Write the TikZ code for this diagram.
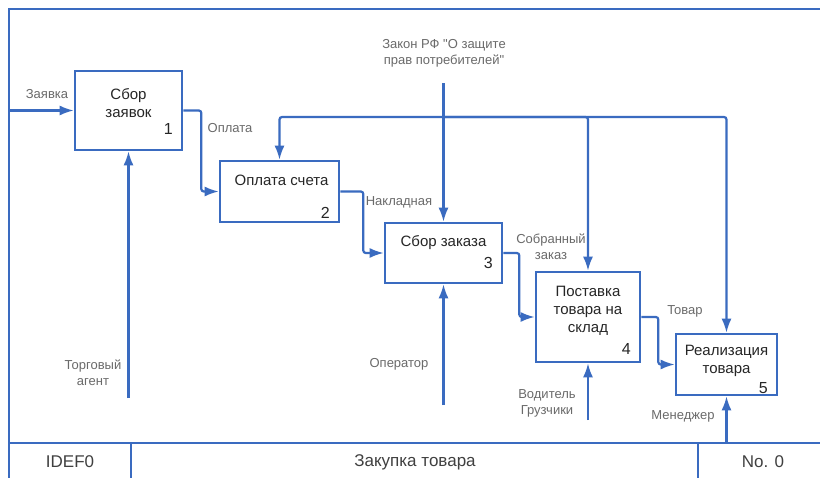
\documentclass[tikz,border=0pt]{standalone}
\usepackage{fontspec}
\setmainfont{Liberation Sans}[Ligatures=TeXOff]
\usetikzlibrary{arrows.meta,calc}
\definecolor{idefblue}{HTML}{3A6BC0}
\definecolor{idefgray}{HTML}{6A6A6A}

\def\xL{9}
\def\xR{830}
\def\yT{9}
\def\yB{443}
\def\yE{490}

\begin{document}
\begin{tikzpicture}[x=1pt, y=-1pt, >={Latex[length=14pt,width=10pt]},
    func/.style={draw=idefblue, line width=2.6pt, inner sep=0pt},
    title/.style={align=center, text=black!85, font=\fontsize{15}{18}\selectfont},
    num/.style={text=black!85, font=\fontsize{16}{16}\selectfont, inner sep=0pt},
    flow/.style={->, idefblue, line width=2.2pt, rounded corners=2.5pt},
    lbl/.style={align=center, text=idefgray, font=\fontsize{13}{16}\selectfont},
    band/.style={text=black!75, font=\fontsize{17}{19}\selectfont}]
      \useasboundingbox (0,0) rectangle (820,477);
      \fill[white] (0,0) rectangle (820,477);
      \draw[idefblue, line width=2.8pt] (\xL,\yE) -- (\xL,\yT) -- (\xR,\yT);
      \draw[idefblue, line width=2.8pt] (\xL,\yB) -- (\xR,\yB);
      \foreach \x in {131,698} {
          \draw[idefblue, line width=2.8pt] (\x,\yB) -- (\x,\yE);
      }
      \node[band] (idef) at (70,462) {IDEF0};
      \node[band] (name) at (415,462) {Закупка товара};
      \node[band] (page) at (763,462) {No. 0};

      \node[func, minimum width=107pt, minimum height=79pt] (b1) at (128.5,110.5) {};
      \node[func, minimum width=119pt, minimum height=61pt] (b2) at (279.5,191.5) {};
      \node[func, minimum width=117pt, minimum height=60pt] (b3) at (443.5,253) {};
      \node[func, minimum width=104pt, minimum height=90pt] (b4) at (588,317) {};
      \node[func, minimum width=101pt, minimum height=61pt] (b5) at (726.5,364.5) {};

      \node[title] (t1) at ($(b1)+(0,-7)$) {Сбор\\заявок};
      \node[title] (t2) at ($(b2)+(2,-11)$) {Оплата счета};
      \node[title] (t3) at ($(b3)+(0,-10)$) {Сбор заказа};
      \node[title] (t4) at ($(b4)+(0,-6)$) {Поставка\\товара на\\склад};
      \node[title] (t5) at ($(b5)+(0,-3.5)$) {Реализация\\товара};
      \foreach \i/\dy in {1/-22,2/-10,3/-21,4/-14,5/-8} {
          \node[num] (n\i) at ($(b\i.south east)+(-15,\dy)$) {\i};
      }

      \coordinate (in1) at (\xL,110.5);
      \coordinate (law) at (443.5,83);
      \coordinate (split) at (443.5,117);
      \coordinate (m1) at (128.5,398);
      \coordinate (m3) at (443.5,405);
      \coordinate (m4) at (588,420);
      \coordinate (m5) at (726.5,\yB);

      \draw[flow] (in1) -- (b1.west);
      \draw[flow] (b1.east) -- ++(18,0) |- (b2.west);
      \draw[flow] (b2.east) -- ++(23,0) |- (b3.west);
      \draw[flow] (b3.east) -- ++(16,0) |- (b4.west);
      \draw[flow] (b4.east) -- ++(17,0) |- (b5.west);
      \draw[flow] (law) -- (b3.north);
      \draw[flow] (split) -| (b2.north);
      \draw[flow] (split) -| (b4.north);
      \draw[flow] (split) -| (b5.north);
      \draw[flow] (m1) -- (b1.south);
      \draw[flow] (m3) -- (b3.south);
      \draw[flow] (m4) -- (b4.south);
      \draw[flow] (m5) -- (b5.south);

      \node[lbl] (l1) at (47,94) {Заявка};
      \node[lbl] (l2) at (230,128) {Оплата};
      \node[lbl] (l3) at (399,202) {Накладная};
      \node[lbl] (l4) at (551,247) {Собранный\\заказ};
      \node[lbl] (l5) at (685,311) {Товар};
      \node[lbl] (l6) at (444,53) {Закон РФ "О защите\\прав потребителей"};
      \node[lbl] (l7) at (93,373) {Торговый\\агент};
      \node[lbl] (l8) at (399,364) {Оператор};
      \node[lbl] (l9) at (547,403) {Водитель\\Грузчики};
      \node[lbl] (l10) at (683,416) {Менеджер};
    \end{tikzpicture}
\end{document}
